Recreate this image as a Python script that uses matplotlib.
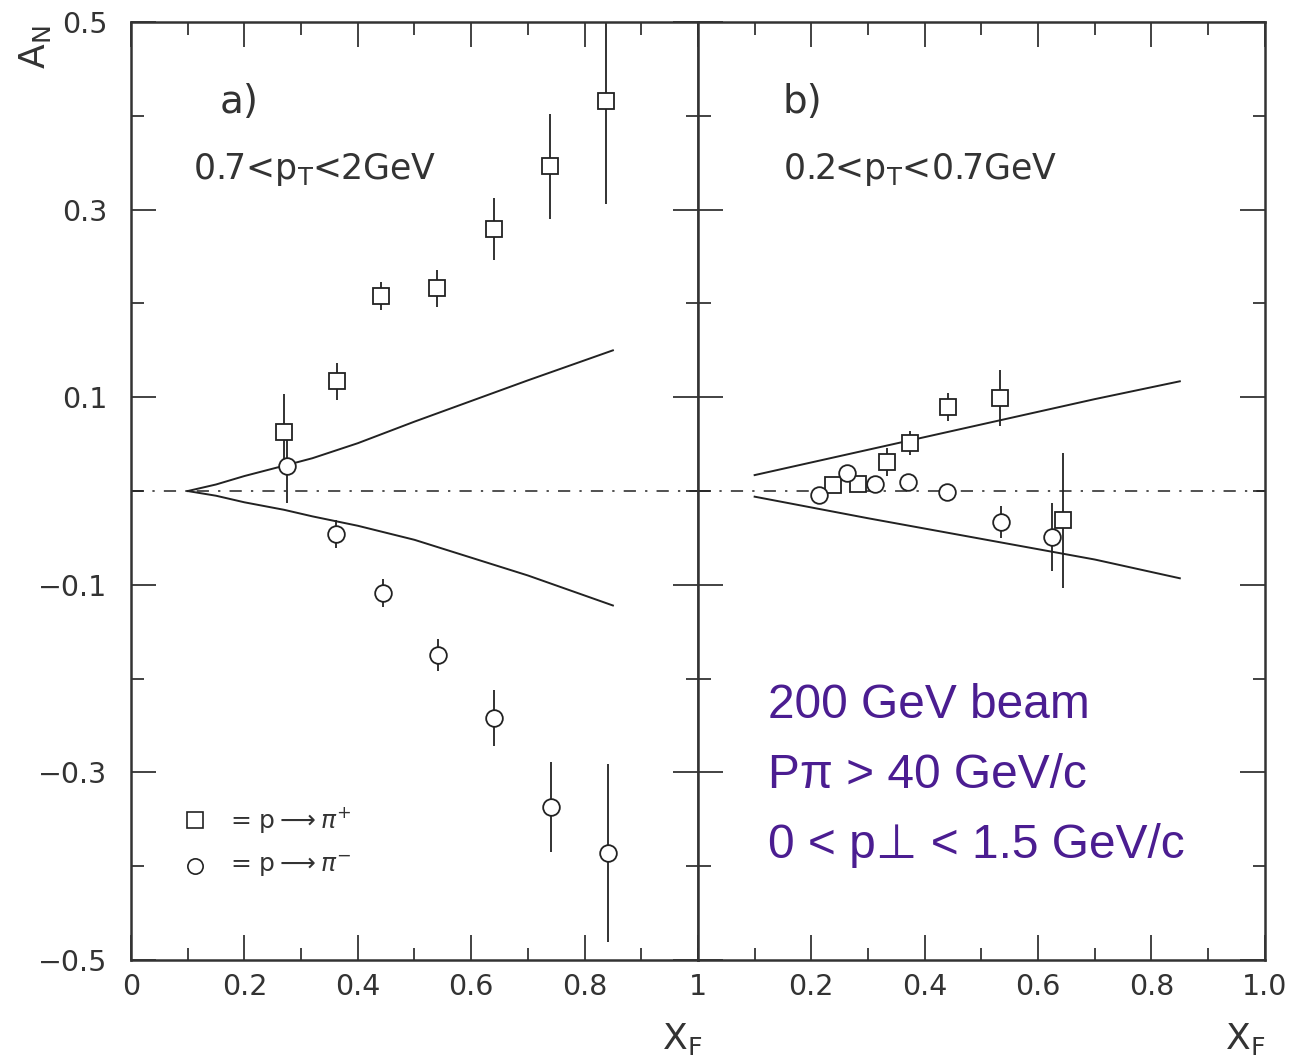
import matplotlib
matplotlib.use('Agg')
import matplotlib.pyplot as plt
from matplotlib.ticker import MultipleLocator, FixedLocator

plt.rcParams['font.family'] = ['DejaVu Sans']
plt.rcParams['mathtext.fontset'] = 'dejavusans'

# panel a) 0.7 < pT < 2 GeV
a_plus_x = [0.27, 0.363, 0.441, 0.540, 0.640, 0.739, 0.838]
a_plus_y = [0.063, 0.117, 0.208, 0.216, 0.279, 0.346, 0.416]
a_plus_err = [0.040, 0.020, 0.015, 0.020, 0.033, 0.056, 0.110]
a_minus_x = [0.275, 0.362, 0.444, 0.541, 0.640, 0.741, 0.841]
a_minus_y = [0.027, -0.046, -0.109, -0.175, -0.242, -0.337, -0.386]
a_minus_err = [0.040, 0.015, 0.015, 0.017, 0.030, 0.048, 0.095]

# theory curves, panel a)
a_curve_x = [0.10, 0.15, 0.20, 0.27, 0.32, 0.40, 0.50, 0.60, 0.70, 0.85]
a_curve_up = [0.0, 0.007, 0.016, 0.027, 0.035, 0.051, 0.074, 0.096, 0.118, 0.150]
a_curve_lo = [0.0, -0.005, -0.012, -0.020, -0.027, -0.037, -0.052, -0.071, -0.090, -0.122]

# panel b) 0.2 < pT < 0.7 GeV
b_plus_x = [0.238, 0.282, 0.333, 0.374, 0.441, 0.533, 0.644]
b_plus_y = [0.006, 0.008, 0.031, 0.051, 0.090, 0.099, -0.031]
b_plus_err = [0.008, 0.008, 0.015, 0.013, 0.015, 0.030, 0.072]
b_minus_x = [0.213, 0.263, 0.312, 0.370, 0.439, 0.534, 0.624]
b_minus_y = [-0.004, 0.019, 0.008, 0.010, -0.001, -0.033, -0.049]
b_minus_err = [0.0, 0.0, 0.0, 0.0, 0.008, 0.017, 0.036]

b_curve_x = [0.10, 0.30, 0.50, 0.70, 0.85]
b_curve_up = [0.017, 0.044, 0.071, 0.098, 0.117]
b_curve_lo = [-0.006, -0.029, -0.051, -0.073, -0.093]

y_ticks = [0.5, 0.3, 0.1, -0.1, -0.3, -0.5]
y_labels = ['0.5', '0.3', '0.1', '\u22120.1', '\u22120.3', '\u22120.5']
a_xticks = [0, 0.2, 0.4, 0.6, 0.8, 1.0]
a_xlabels = ['0', '0.2', '0.4', '0.6', '0.8', '1']
b_xticks = [0.2, 0.4, 0.6, 0.8, 1.0]
b_xlabels = ['0.2', '0.4', '0.6', '0.8', '1.0']

info_lines = ['200 GeV beam', 'P\u03c0 > 40 GeV/c', '0 < p\u22a5 < 1.5 GeV/c']

INK = '#222222'
LABEL = '#333333'

fig = plt.figure(figsize=(12.92, 10.6), dpi=100)
ax_a = fig.add_axes([0.1014, 0.0943, 0.4388, 0.8849])
ax_b = fig.add_axes([0.5402, 0.0943, 0.4388, 0.8849])


def draw_points(ax, x, y, err, marker):
    ax.errorbar(x, y, yerr=err, fmt='none', ecolor=INK, elinewidth=1.3,
                capsize=0, zorder=2)
    ax.plot(x, y, linestyle='none', marker=marker, markersize=12,
            markerfacecolor='white', markeredgecolor=INK,
            markeredgewidth=1.3, zorder=3)


def style_axis(ax):
    ax.set_xlim(0, 1)
    ax.set_ylim(-0.5, 0.5)
    ax.yaxis.set_major_locator(FixedLocator(y_ticks))
    ax.yaxis.set_minor_locator(MultipleLocator(0.1))
    ax.xaxis.set_minor_locator(MultipleLocator(0.1))
    ax.tick_params(which='both', direction='in', top=True, right=True,
                   color=INK, width=1.2)
    ax.tick_params(which='major', length=18, labelsize=20.5, labelcolor=LABEL)
    ax.tick_params(which='minor', length=9)
    ax.tick_params(axis='x', which='major', pad=9)
    ax.tick_params(axis='y', which='major', pad=17)
    for s in ax.spines.values():
        s.set_linewidth(1.8)
        s.set_color('#333333')
    ax.axhline(0, color=INK, linewidth=1.1, linestyle=(0, (8, 6, 1.5, 6)),
               zorder=1)


for ax in (ax_a, ax_b):
    style_axis(ax)

# panel a
ax_a.plot(a_curve_x, a_curve_up, color=INK, linewidth=1.4)
ax_a.plot(a_curve_x, a_curve_lo, color=INK, linewidth=1.4)
draw_points(ax_a, a_plus_x, a_plus_y, a_plus_err, 's')
draw_points(ax_a, a_minus_x, a_minus_y, a_minus_err, 'o')
ax_a.set_yticklabels(y_labels)
ax_a.set_xticks(a_xticks)
ax_a.set_xticklabels(a_xlabels)
ax_a.text(0.19, 0.415, 'a)', fontsize=28, color=LABEL, ha='center', va='center')
ax_a.text(0.11, 0.343, r'0.7<p$_\mathregular{T}$<2GeV', fontsize=25,
          color=LABEL, ha='left', va='center')

# legend drawn by hand like the original
ax_a.plot([0.113], [-0.351], linestyle='none', marker='s', markersize=11,
          markerfacecolor='white', markeredgecolor=INK, markeredgewidth=1.2)
ax_a.plot([0.113], [-0.400], linestyle='none', marker='o', markersize=11,
          markerfacecolor='white', markeredgecolor=INK, markeredgewidth=1.2)
ax_a.text(0.175, -0.351, r'= p$\longrightarrow\pi^{+}$', fontsize=18,
          color=LABEL, ha='left', va='center')
ax_a.text(0.175, -0.400, r'= p$\longrightarrow\pi^{-}$', fontsize=18,
          color=LABEL, ha='left', va='center')

# panel b
ax_b.plot(b_curve_x, b_curve_up, color=INK, linewidth=1.4)
ax_b.plot(b_curve_x, b_curve_lo, color=INK, linewidth=1.4)
draw_points(ax_b, b_plus_x, b_plus_y, b_plus_err, 's')
draw_points(ax_b, b_minus_x, b_minus_y, b_minus_err, 'o')
ax_b.set_yticklabels([])
ax_b.set_xticks(b_xticks)
ax_b.set_xticklabels(b_xlabels)
ax_b.text(0.185, 0.415, 'b)', fontsize=28, color=LABEL, ha='center', va='center')
ax_b.text(0.15, 0.343, r'0.2<p$_\mathregular{T}$<0.7GeV', fontsize=25,
          color=LABEL, ha='left', va='center')

for i, line in enumerate(info_lines):
    ax_b.text(0.123, -0.229 - 0.0745 * i, line, fontsize=34.5, color='#4b1d91',
              ha='left', va='center', family=['Liberation Sans', 'DejaVu Sans'])

# axis titles
fig.text(0.027, 0.955, r'A$_\mathregular{N}$', rotation=90, fontsize=26,
         color=LABEL, ha='center', va='center')
fig.text(0.528, 0.020, r'X$_\mathregular{F}$', fontsize=26, color=LABEL,
         ha='center', va='center')
fig.text(0.964, 0.020, r'X$_\mathregular{F}$', fontsize=26, color=LABEL,
         ha='center', va='center')

fig.savefig('out.png', dpi=100)
